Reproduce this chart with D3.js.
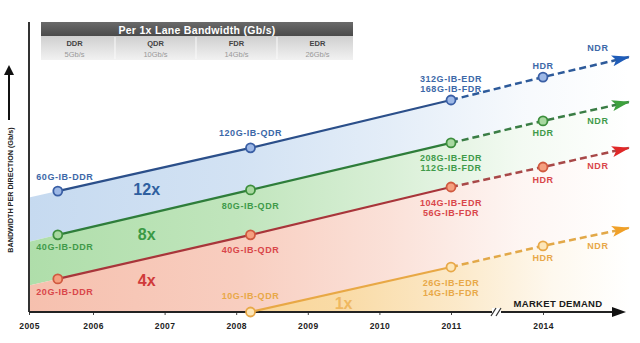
<!DOCTYPE html>
<html lang="en">
<head>
<meta charset="UTF-8">
<title>InfiniBand Bandwidth Roadmap</title>
<script src="https://d3js.org/d3.v7.min.js"></script>
<style>
  body { margin: 0; background: #fff; }
  svg { display: block; font-family: "Liberation Sans", Arial, sans-serif; font-weight: bold; }
</style>
</head>
<body>
<svg width="640" height="343"></svg>
<script>
// ---- data (schematic units 0..100) ----
const years = [2005, 2006, 2007, 2008, 2009, 2010, 2011, 2014];
const genYears = [2005, 2005.45, 2008.2, 2011, 2014, 2016.8]; // axis edge, DDR, QDR, EDR, HDR, NDR
const blueValues = [39.5, 41.7, 56.6, 73.1, 81.0, 87.9];
const greenValues = [24.2, 26.6, 42.1, 58.3, 65.9, 72.4];
const redValues = [9.1, 11.4, 26.6, 43.1, 50.0, 56.6];
const orangeValues = [null, null, 0, 15.5, 22.8, 29.0];
const widthNames = ["12x", "8x", "4x", "1x"];
const blueLabels = [null, ["60G-IB-DDR"], ["120G-IB-QDR"], ["312G-IB-EDR", "168G-IB-FDR"], ["HDR"], ["NDR"]];
const greenLabels = [null, ["40G-IB-DDR"], ["80G-IB-QDR"], ["208G-IB-EDR", "112G-IB-FDR"], ["HDR"], ["NDR"]];
const redLabels = [null, ["20G-IB-DDR"], ["40G-IB-QDR"], ["104G-IB-EDR", "56G-IB-FDR"], ["HDR"], ["NDR"]];
const orangeLabels = [null, null, ["10G-IB-QDR"], ["26G-IB-EDR", "14G-IB-FDR"], ["HDR"], ["NDR"]];
const laneColumns = ["DDR", "QDR", "FDR", "EDR"];
const laneRates = ["5Gb/s", "10Gb/s", "14Gb/s", "26Gb/s"];

// ---- styling per series ----
const series = [
  { name: widthNames[0], values: blueValues, labels: blueLabels, fill: "#c6daf0", fadeFrom: 29, line: "#2b4f8a", dash: "#2d5a9a", head: "#1f5cb8", dot: "#9db8e6", dotStroke: "#3a5fa5", text: "#3c68a8", wide: "#2f5f9f", dy: [null, -14, -15, -21, -11, -9], mult: [2006.75, 42.1] },
  { name: widthNames[1], values: greenValues, labels: greenLabels, fill: "#afdeaa", fadeFrom: 29, line: "#2e7d3a", dash: "#3a7d45", head: "#3da03d", dot: "#a8d8a0", dotStroke: "#3d8f3d", text: "#3f9a4a", wide: "#3a9a45", dy: [null, 12, 16, 15, 12, 19], mult: [2006.75, 26.6] },
  { name: widthNames[2], values: redValues, labels: redLabels, fill: "#f6c0ae", fadeFrom: 29, line: "#a8353a", dash: "#a84848", head: "#e02828", dot: "#f5a080", dotStroke: "#d05a40", text: "#d9464a", wide: "#d03a3a", dy: [null, 13, 15, 16, 13, 18], mult: [2006.75, 10.7] },
  { name: widthNames[3], values: orangeValues, labels: orangeLabels, fill: "#f8d290", fadeFrom: 200, line: "#e8a845", dash: "#e2a848", head: "#f0a028", dot: "#fde6b8", dotStroke: "#e8a848", text: "#e8a848", wide: "#efb860", dy: [null, null, -16, 16, 12, 18], mult: [2009.5, 3.1] }
];

const svg = d3.select("svg");
const x = d3.scaleLinear().domain([2005, 2006, 2011, 2014]).range([29, 93, 451, 543]);
const y = d3.scaleLinear().domain([0, 100]).range([312, 22]);

const defs = svg.append("defs");

// fading fills + arrow heads
series.forEach((s, i) => {
  const g = defs.append("linearGradient").attr("id", "fade" + i)
    .attr("gradientUnits", "userSpaceOnUse").attr("x1", s.fadeFrom).attr("x2", 630).attr("y1", 0).attr("y2", 0);
  [[0, 1], [0.35, 0.78], [0.6, 0.48], [0.82, 0.15], [1, 0]].forEach(([o, a]) =>
    g.append("stop").attr("offset", o).attr("stop-color", s.fill).attr("stop-opacity", a));

  defs.append("marker").attr("id", "head" + i)
    .attr("viewBox", "0 -6 18 12").attr("refX", 17).attr("refY", 0)
    .attr("markerUnits", "userSpaceOnUse").attr("markerWidth", 18).attr("markerHeight", 12)
    .attr("orient", "auto")
    .append("path").attr("d", "M0,-5.5L18,0L0,5.5L4,0Z").attr("fill", s.head);
});

// bands between consecutive series
const idx = d3.range(genYears.length);
series.forEach((s, i) => {
  const below = series[i + 1];
  const area = d3.area()
    .defined(j => s.values[j] != null)
    .x(j => x(genYears[j]))
    .y1(j => y(s.values[j]))
    .y0(j => y(below && below.values[j] != null ? below.values[j] : 0));
  svg.append("path").attr("d", area(idx)).attr("fill", `url(#fade${i})`);
});

// table
const table = svg.append("g");
const col = d3.scaleBand().domain(laneColumns).range([34, 358]);
const hdr = defs.append("linearGradient").attr("id", "hdr").attr("x1", 0).attr("x2", 0).attr("y1", 0).attr("y2", 1);
hdr.append("stop").attr("offset", 0).attr("stop-color", "#6a6a6a");
hdr.append("stop").attr("offset", 1).attr("stop-color", "#4a4a4a");
const row = defs.append("linearGradient").attr("id", "row").attr("x1", 0).attr("x2", 0).attr("y1", 0).attr("y2", 1);
row.append("stop").attr("offset", 0).attr("stop-color", "#cfcfcf");
row.append("stop").attr("offset", 1).attr("stop-color", "#f2f2f2");
table.append("rect").attr("x", 41).attr("y", 22).attr("width", 312).attr("height", 14).attr("fill", "url(#hdr)");
table.append("rect").attr("x", 41).attr("y", 36).attr("width", 312).attr("height", 24).attr("fill", "url(#row)");
table.append("text").attr("x", 197).attr("y", 33.5).attr("text-anchor", "middle")
  .attr("fill", "#fff").attr("font-size", 10.5).attr("letter-spacing", 0.3)
  .text("Per 1x Lane Bandwidth (Gb/s)");
table.selectAll(".sep").data(laneColumns.slice(1)).join("line")
  .attr("x1", d => col(d)).attr("x2", d => col(d)).attr("y1", 37).attr("y2", 59)
  .attr("stroke", "#fafafa").attr("stroke-width", 1);
table.selectAll(".cname").data(laneColumns).join("text")
  .attr("x", d => col(d) + col.bandwidth() / 2).attr("y", 45.5).attr("text-anchor", "middle")
  .attr("fill", "#444").attr("font-size", 7.5).text(d => d);
table.selectAll(".crate").data(laneRates).join("text")
  .attr("x", (d, i) => col(laneColumns[i]) + col.bandwidth() / 2).attr("y", 56.5).attr("text-anchor", "middle")
  .attr("fill", "#999").attr("font-size", 7.5).attr("font-weight", "normal").text(d => d);

// axes
const xAxis = svg.append("g").attr("transform", `translate(0,${y(0)})`)
  .call(d3.axisBottom(x).tickValues(years).tickSize(3).tickPadding(8).tickFormat(d3.format("d")));
xAxis.select(".domain").remove();
xAxis.selectAll("line").attr("stroke", "#444");
xAxis.selectAll("text").attr("font-size", 8.5).attr("fill", "#222").attr("letter-spacing", 0.4)
  .attr("font-family", "Liberation Sans, Arial, sans-serif").attr("font-weight", "bold");

svg.append("line").attr("x1", x(2005)).attr("x2", x(2005)).attr("y1", y(100)).attr("y2", y(0))
  .attr("stroke", "#333").attr("stroke-width", 2);
svg.append("line").attr("x1", x(2005)).attr("x2", 614).attr("y1", y(0)).attr("y2", y(0))
  .attr("stroke", "#222").attr("stroke-width", 2);
svg.append("path").attr("d", `M612,${y(0) - 5}L626,${y(0)}L612,${y(0) + 5}Z`).attr("fill", "#111");
// axis break
const bx = x(2012.5);
svg.append("rect").attr("x", bx - 5).attr("y", y(0) - 4).attr("width", 9).attr("height", 8).attr("fill", "#fff");
[-4, 1].forEach(o => svg.append("line")
  .attr("x1", bx + o - 2).attr("x2", bx + o + 3).attr("y1", y(0) + 4).attr("y2", y(0) - 4)
  .attr("stroke", "#333").attr("stroke-width", 1.2));

svg.append("text").attr("x", 558).attr("y", 306.5).attr("text-anchor", "middle")
  .attr("font-size", 9.5).attr("letter-spacing", 0.3).attr("fill", "#1a1a1a").text("MARKET DEMAND");

// y title with arrow
svg.append("line").attr("x1", 9).attr("x2", 9).attr("y1", 120).attr("y2", 74).attr("stroke", "#111").attr("stroke-width", 2);
svg.append("path").attr("d", "M4,75L9,65L14,75Z").attr("fill", "#111");
svg.append("text").attr("transform", "translate(12.5,190) rotate(-90)").attr("text-anchor", "middle")
  .attr("font-size", 7.2).attr("fill", "#222").text("BANDWIDTH PER DIRECTION (Gb/s)");

// lines, markers, labels
series.forEach((s, i) => {
  const pts = idx.filter(j => j > 0 && s.values[j] != null);
  const solid = pts.filter(j => j <= 3);
  const dashed = pts.filter(j => j >= 3);
  const line = d3.line().x(j => x(genYears[j])).y(j => y(s.values[j]));
  svg.append("path").attr("d", line(solid)).attr("fill", "none").attr("stroke", s.line).attr("stroke-width", 2.2);
  svg.append("path").attr("d", line(dashed)).attr("fill", "none").attr("stroke", s.dash)
    .attr("stroke-width", 2.5).attr("stroke-dasharray", "7,4").attr("marker-end", `url(#head${i})`);

  svg.selectAll(null).data(pts.filter(j => j < 5)).join("circle")
    .attr("cx", j => x(genYears[j])).attr("cy", j => y(s.values[j])).attr("r", 4.5)
    .attr("fill", s.dot).attr("stroke", s.dotStroke).attr("stroke-width", 1.8);

  pts.forEach(j => {
    const lines = s.labels[j];
    if (!lines) return;
    const dx = j === 1 ? 7 : j === 5 ? -31 : 0;
    lines.forEach((t, k) => {
      svg.append("text").attr("x", x(genYears[j]) + dx).attr("y", y(s.values[j]) + s.dy[j] + k * 10)
        .attr("dominant-baseline", "central").attr("text-anchor", "middle")
        .attr("font-size", 9).attr("letter-spacing", 0.55).attr("fill", s.text).text(t);
    });
  });

  svg.append("text").attr("x", x(s.mult[0])).attr("y", y(s.mult[1]))
    .attr("dominant-baseline", "central").attr("text-anchor", "middle")
    .attr("font-size", 16).attr("fill", s.wide).text(s.name);
});
</script>
</body>
</html>
